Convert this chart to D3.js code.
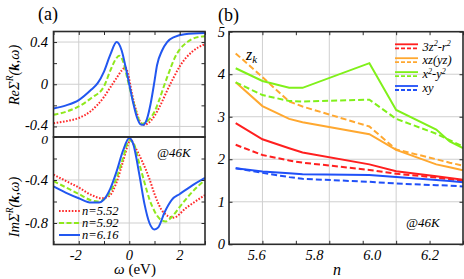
<!DOCTYPE html>
<html>
<head>
<meta charset="utf-8">
<script src="https://cdn.jsdelivr.net/npm/d3@7"></script>
<style>
  html, body { margin: 0; padding: 0; background: #fff; }
  svg text { font-family: "Liberation Serif", "Times New Roman", "DejaVu Serif", serif; }
</style>
</head>
<body>
<div id="chart"></div>
<script>
// ---- panel (a): self-energy vs omega, [omega, value] ----
const reN552 = [[-3,-0.37],[-2.5,-0.35],[-2,-0.32],[-1.5,-0.25],[-1,-0.12],[-0.75,-0.03],[-0.5,0.06],[-0.3,0.13],[-0.15,0.16],[-0.05,0.1],[0.1,-0.08],[0.25,-0.23],[0.4,-0.34],[0.55,-0.385],[0.75,-0.37],[1,-0.3],[1.25,-0.19],[1.5,-0.06],[1.75,0.06],[2,0.17],[2.5,0.31],[3,0.38]];
const reN592 = [[-3,-0.29],[-2.5,-0.26],[-2,-0.21],[-1.5,-0.13],[-1,-0.02],[-0.75,0.13],[-0.5,0.25],[-0.4,0.27],[-0.25,0.22],[-0.1,0.08],[0,-0.02],[0.2,-0.2],[0.35,-0.32],[0.5,-0.375],[0.8,-0.33],[1,-0.26],[1.2,-0.14],[1.4,0],[1.6,0.13],[1.8,0.25],[2,0.33],[2.3,0.4],[2.6,0.44],[3,0.455]];
const reN616 = [[-3,-0.23],[-2.5,-0.2],[-2,-0.15],[-1.5,-0.05],[-1.25,0.01],[-1,0.12],[-0.75,0.28],[-0.5,0.4],[-0.3,0.32],[-0.15,0.17],[0,0],[0.15,-0.17],[0.3,-0.31],[0.45,-0.38],[0.55,-0.385],[0.7,-0.33],[0.85,-0.18],[1,0.03],[1.1,0.18],[1.3,0.32],[1.5,0.4],[1.8,0.45],[2.2,0.475],[3,0.485]];

const imN552 = [[-3,-0.35],[-2.5,-0.41],[-2,-0.47],[-1.5,-0.54],[-1.1,-0.57],[-0.8,-0.55],[-0.5,-0.42],[-0.25,-0.23],[0,-0.04],[0.05,-0.02],[0.2,-0.08],[0.5,-0.22],[0.8,-0.39],[1,-0.53],[1.35,-0.7],[1.75,-0.75],[2.25,-0.66],[3,-0.54]];
const imN592 = [[-3,-0.41],[-2.5,-0.47],[-2,-0.53],[-1.5,-0.59],[-1.25,-0.6],[-1,-0.58],[-0.75,-0.51],[-0.5,-0.38],[-0.25,-0.2],[0,-0.03],[0.15,-0.05],[0.4,-0.25],[0.6,-0.42],[0.8,-0.58],[1,-0.69],[1.25,-0.77],[1.45,-0.785],[1.7,-0.74],[2,-0.65],[2.5,-0.51],[3,-0.4]];
const imN616 = [[-3,-0.46],[-2.5,-0.52],[-2,-0.57],[-1.5,-0.61],[-1.2,-0.61],[-1,-0.58],[-0.75,-0.48],[-0.5,-0.32],[-0.25,-0.13],[0,-0.01],[0.15,-0.06],[0.4,-0.35],[0.6,-0.62],[0.8,-0.8],[1,-0.86],[1.15,-0.84],[1.4,-0.7],[1.7,-0.58],[2,-0.53],[2.5,-0.45],[3,-0.38]];

const legendA = ["n=5.52", "n=5.92", "n=6.16"];
const reTicksA = [-0.4, 0, 0.4];
const imTicksA = [-0.8, -0.4, 0];
const omegaTicks = [-2, 0, 2];

// ---- panel (b): z_k vs filling n ----
const nValues = [5.52, 5.6, 5.68, 5.72, 5.92, 6.0, 6.12, 6.16, 6.2];
const z3z2Solid = [2.85, 2.47, 2.26, 2.16, 1.88, 1.72, 1.6, 1.56, 1.52];
const z3z2Dash  = [2.34, 2.1, 1.97, 1.92, 1.75, 1.66, 1.57, 1.53, 1.49];
const zXzSolid  = [3.81, 3.25, 2.95, 2.87, 2.59, 2.22, 1.88, 1.81, 1.74];
const zXzDash   = [4.49, 3.93, 3.36, 3.24, 2.77, 2.23, 2.0, 1.92, 1.85];
const zX2Solid  = [4.14, 3.84, 3.68, 3.68, 4.26, 3.16, 2.7, 2.42, 2.26];
const zX2Dash   = [3.81, 3.51, 3.37, 3.36, 3.40, 2.95, 2.6, 2.45, 2.3];
const zXySolid  = [1.79, 1.71, 1.67, 1.65, 1.63, 1.58, 1.51, 1.49, 1.46];
const zXyDash   = [1.79, 1.68, 1.58, 1.54, 1.47, 1.43, 1.39, 1.38, 1.36];
const nTickLabels = [5.6, 5.8, 6.0, 6.2];
const zTicks = [0, 1, 2, 3, 4, 5];

const colA = { red: "#ff2a2a", green: "#8fe81c", blue: "#2257f0" };
const colB = { red: "#ff1f1f", orange: "#ffa830", green: "#80f01a", blue: "#2050f8" };

const W = 464, H = 279;
const svg = d3.select("#chart").append("svg").attr("width", W).attr("height", H);
svg.append("rect").attr("width", W).attr("height", H).attr("fill", "#fff");

// scales
const xA = d3.scaleLinear().domain([-3, 3]).range([53.5, 205]);
const yRe = d3.scaleLinear().domain([-0.5, 0.5]).range([137, 31.5]);
const yIm = d3.scaleLinear().domain([-1, 0]).range([244.5, 137]);

const xB = d3.scaleLinear().domain([5.5, 6.2]).range([229, 463]);
// tick labels of (b) sit off the tick marks in the original figure
const xBLabel = d3.scaleLinear().domain([5.6, 6.2]).range([256.7, 430]);
const yB = d3.scaleLinear().domain([0, 5]).range([244.3, 31.7]);

const defs = svg.append("defs");
function clip(id, x0, x1, y0, y1) {
  defs.append("clipPath").attr("id", id).append("rect")
    .attr("x", x0).attr("y", y0).attr("width", x1 - x0).attr("height", y1 - y0);
  return `url(#${id})`;
}

const gridCol = "#cfcfcf";
const frameCol = "#2b2b2b";

function grid(g, xs, ys, xScale, yScale) {
  const [x0, x1] = xScale.range();
  const [y0, y1] = yScale.range();
  g.selectAll(null).data(xs).join("line")
    .attr("x1", d => xScale(d)).attr("x2", d => xScale(d))
    .attr("y1", y0).attr("y2", y1)
    .attr("stroke", gridCol).attr("stroke-width", 1);
  g.selectAll(null).data(ys).join("line")
    .attr("y1", d => yScale(d)).attr("y2", d => yScale(d))
    .attr("x1", x0).attr("x2", x1)
    .attr("stroke", gridCol).attr("stroke-width", 1);
}

function ticks(g, xs, ys, xScale, yScale, len, sides) {
  const [x0, x1] = xScale.range();
  const [yb, yt] = yScale.range();
  if (sides.includes("b")) g.append("g").attr("transform", `translate(0,${yb})`)
    .call(d3.axisBottom(xScale).tickValues(xs).tickSize(-len).tickFormat("")).call(s => s.select(".domain").remove());
  if (sides.includes("t")) g.append("g").attr("transform", `translate(0,${yt})`)
    .call(d3.axisTop(xScale).tickValues(xs).tickSize(-len).tickFormat("")).call(s => s.select(".domain").remove());
  if (sides.includes("l")) g.append("g").attr("transform", `translate(${x0},0)`)
    .call(d3.axisLeft(yScale).tickValues(ys).tickSize(-len).tickFormat("")).call(s => s.select(".domain").remove());
  if (sides.includes("r")) g.append("g").attr("transform", `translate(${x1},0)`)
    .call(d3.axisRight(yScale).tickValues(ys).tickSize(-len).tickFormat("")).call(s => s.select(".domain").remove());
  g.selectAll(".tick line").attr("stroke", frameCol).attr("stroke-width", 1);
}

function frame(g, xScale, yScale) {
  const [x0, x1] = xScale.range();
  const [yb, yt] = yScale.range();
  g.append("rect").attr("x", x0).attr("y", yt).attr("width", x1 - x0).attr("height", yb - yt)
    .attr("fill", "none").attr("stroke", frameCol).attr("stroke-width", 1.6);
}

// ================= panel (a) =================
const gA = svg.append("g");
grid(gA, omegaTicks, [-0.4, 0, 0.4], xA, yRe);
grid(gA, omegaTicks, [-0.8, -0.4], xA, yIm);

const lineA = (ys) => d3.line().x(d => xA(d[0])).y(d => ys(d[1])).curve(d3.curveMonotoneX);
const seriesA = [
  { re: reN552, im: imN552, color: colA.red, dash: "1.6,1.6", w: 2 },
  { re: reN592, im: imN592, color: colA.green, dash: "5,2.5", w: 2 },
  { re: reN616, im: imN616, color: colA.blue, dash: null, w: 2 }
];
const clipRe = clip("cRe", 53.5, 205, 31.5, 137);
const clipIm = clip("cIm", 53.5, 205, 137, 244.5);
const gRe = gA.append("g").attr("clip-path", clipRe);
const gIm = gA.append("g").attr("clip-path", clipIm);
seriesA.forEach(s => {
  gRe.append("path").attr("d", lineA(yRe)(s.re)).attr("fill", "none")
    .attr("stroke", s.color).attr("stroke-width", s.w).attr("stroke-dasharray", s.dash);
  gIm.append("path").attr("d", lineA(yIm)(s.im)).attr("fill", "none")
    .attr("stroke", s.color).attr("stroke-width", s.w).attr("stroke-dasharray", s.dash);
});

ticks(gA, d3.range(-3, 3.01, 1), d3.range(-0.4, 0.41, 0.2), xA, yRe, 3.5, "tlr");
ticks(gA, d3.range(-3, 3.01, 1), d3.range(-0.8, 0.01, 0.2), xA, yIm, 3.5, "blr");
frame(gA, xA, yRe);
frame(gA, xA, yIm);

const tickFont = 14.5;
const fmtA = d => d === 0 ? "0" : (d < 0 ? "-" : "") + Math.abs(d).toString();
gA.selectAll(null).data(reTicksA).join("text")
  .attr("x", 48).attr("y", d => yRe(d) + (d < 0 ? 3.5 : 4.5)).attr("text-anchor", "end")
  .attr("font-size", tickFont).attr("font-style", "italic").text(fmtA);
gA.selectAll(null).data(imTicksA).join("text")
  .attr("x", 48).attr("y", d => yIm(d) + (d === 0 ? 6.5 : 4.5)).attr("text-anchor", "end")
  .attr("font-size", d => d === 0 ? 13.5 : tickFont).attr("font-style", "italic").text(fmtA);
gA.selectAll(null).data(omegaTicks).join("text")
  .attr("x", d => xA(d) - (d < 0 ? 3 : 0)).attr("y", 259.5).attr("text-anchor", "middle")
  .attr("font-size", tickFont).attr("font-style", "italic")
  .text(d => (d < 0 ? "-" : "") + Math.abs(d));

// axis titles (a)
const omegaLab = gA.append("text").attr("x", 135).attr("y", 274).attr("text-anchor", "middle").attr("font-size", 15);
omegaLab.append("tspan").attr("font-style", "italic").text("ω");
omegaLab.append("tspan").text(" (eV)");

function sigmaLabel(cy, prefix) {
  const t = gA.append("text").attr("transform", `translate(19,${cy}) rotate(-90)`)
    .attr("text-anchor", "middle").attr("font-size", 14.5).attr("font-style", "italic");
  t.append("tspan").text(prefix + "Σ");
  t.append("tspan").attr("font-size", 9.5).attr("dy", -6).text("R");
  t.append("tspan").attr("dy", 6).text("(");
  t.append("tspan").attr("font-weight", "bold").text("k");
  t.append("tspan").text(",ω)");
}
sigmaLabel(75, "Re");
sigmaLabel(207, "Im");

// "(a)"
svg.append("text").attr("x", 38).attr("y", 20).attr("font-size", 18).text("(a)");
gA.append("text").attr("x", 157).attr("y", 157).attr("font-size", 13).attr("font-style", "italic").text("@46K");

// legend (a)
const legA = gA.append("g");
legendA.forEach((lab, i) => {
  const y = 211 + i * 12;
  const s = seriesA[i];
  legA.append("line").attr("x1", 59).attr("x2", 80).attr("y1", y).attr("y2", y)
    .attr("stroke", s.color).attr("stroke-width", s.w).attr("stroke-dasharray", s.dash);
  legA.append("text").attr("x", 82).attr("y", y + 4).attr("font-size", 12.5).attr("font-style", "italic").text(lab);
});

// ================= panel (b) =================
const gB = svg.append("g");
grid(gB, [5.6, 5.8, 6.0], [1, 2, 3, 4], xB, yB);

const seriesB = [
  { v: z3z2Solid, color: colB.red, dash: null },
  { v: z3z2Dash, color: colB.red, dash: "6,3" },
  { v: zXzSolid, color: colB.orange, dash: null },
  { v: zXzDash, color: colB.orange, dash: "6,3" },
  { v: zX2Solid, color: colB.green, dash: null },
  { v: zX2Dash, color: colB.green, dash: "6,3" },
  { v: zXySolid, color: colB.blue, dash: null },
  { v: zXyDash, color: colB.blue, dash: "6,3" }
];
const lineB = d3.line().x((d, i) => xB(nValues[i])).y(d => yB(d));
const gLinesB = gB.append("g").attr("clip-path", clip("cB", 229, 463, 31.7, 244.3));
seriesB.forEach(s => {
  gLinesB.append("path").attr("d", lineB(s.v)).attr("fill", "none")
    .attr("stroke", s.color).attr("stroke-width", 2).attr("stroke-dasharray", s.dash);
});

ticks(gB, d3.range(5.5, 6.201, 0.1), zTicks, xB, yB, 3.5, "tblr");
frame(gB, xB, yB);

gB.selectAll(null).data(zTicks).join("text")
  .attr("x", 225).attr("y", d => yB(d) + 5).attr("text-anchor", "end")
  .attr("font-size", tickFont).attr("font-style", "italic").text(d => d);
gB.selectAll(null).data(nTickLabels).join("text")
  .attr("x", d => xBLabel(d)).attr("y", 259.5).attr("text-anchor", "middle")
  .attr("font-size", tickFont).attr("font-style", "italic").text(d => d.toFixed(1));
gB.append("text").attr("x", 337).attr("y", 275).attr("text-anchor", "middle")
  .attr("font-size", 16).attr("font-style", "italic").text("n");

svg.append("text").attr("x", 218).attr("y", 21).attr("font-size", 18).text("(b)");

const zk = gB.append("text").attr("x", 246).attr("y", 60).attr("font-size", 16).attr("font-style", "italic");
zk.append("tspan").text("z");
zk.append("tspan").attr("font-size", 11).attr("dy", 3).text("k");

gB.append("text").attr("x", 406).attr("y", 227).attr("font-size", 13).attr("font-style", "italic").text("@46K");

// legend (b)
const legB = gB.append("g");
const legendB = [
  { parts: [["3z", 0], ["2", 1], ["-r", 0], ["2", 1]], color: colB.red },
  { parts: [["xz(yz)", 0]], color: colB.orange },
  { parts: [["x", 0], ["2", 1], ["-y", 0], ["2", 1]], color: colB.green },
  { parts: [["xy", 0]], color: colB.blue }
];
legendB.forEach((e, i) => {
  const y = 46.5 + i * 13.9;
  legB.append("line").attr("x1", 395).attr("x2", 418).attr("y1", y - 2.2).attr("y2", y - 2.2)
    .attr("stroke", e.color).attr("stroke-width", 1.8);
  legB.append("line").attr("x1", 395).attr("x2", 418).attr("y1", y + 1.8).attr("y2", y + 1.8)
    .attr("stroke", e.color).attr("stroke-width", 1.8).attr("stroke-dasharray", "4,2");
  const t = legB.append("text").attr("x", 422.5).attr("y", y + 4).attr("font-size", 12.5).attr("font-style", "italic");
  let up = false;
  e.parts.forEach(([s, sup]) => {
    const ts = t.append("tspan").text(s);
    if (sup && !up) { ts.attr("font-size", 8).attr("dy", -4.5); up = true; }
    else if (!sup && up) { ts.attr("dy", 4.5); up = false; }
  });
});
</script>
</body>
</html>
